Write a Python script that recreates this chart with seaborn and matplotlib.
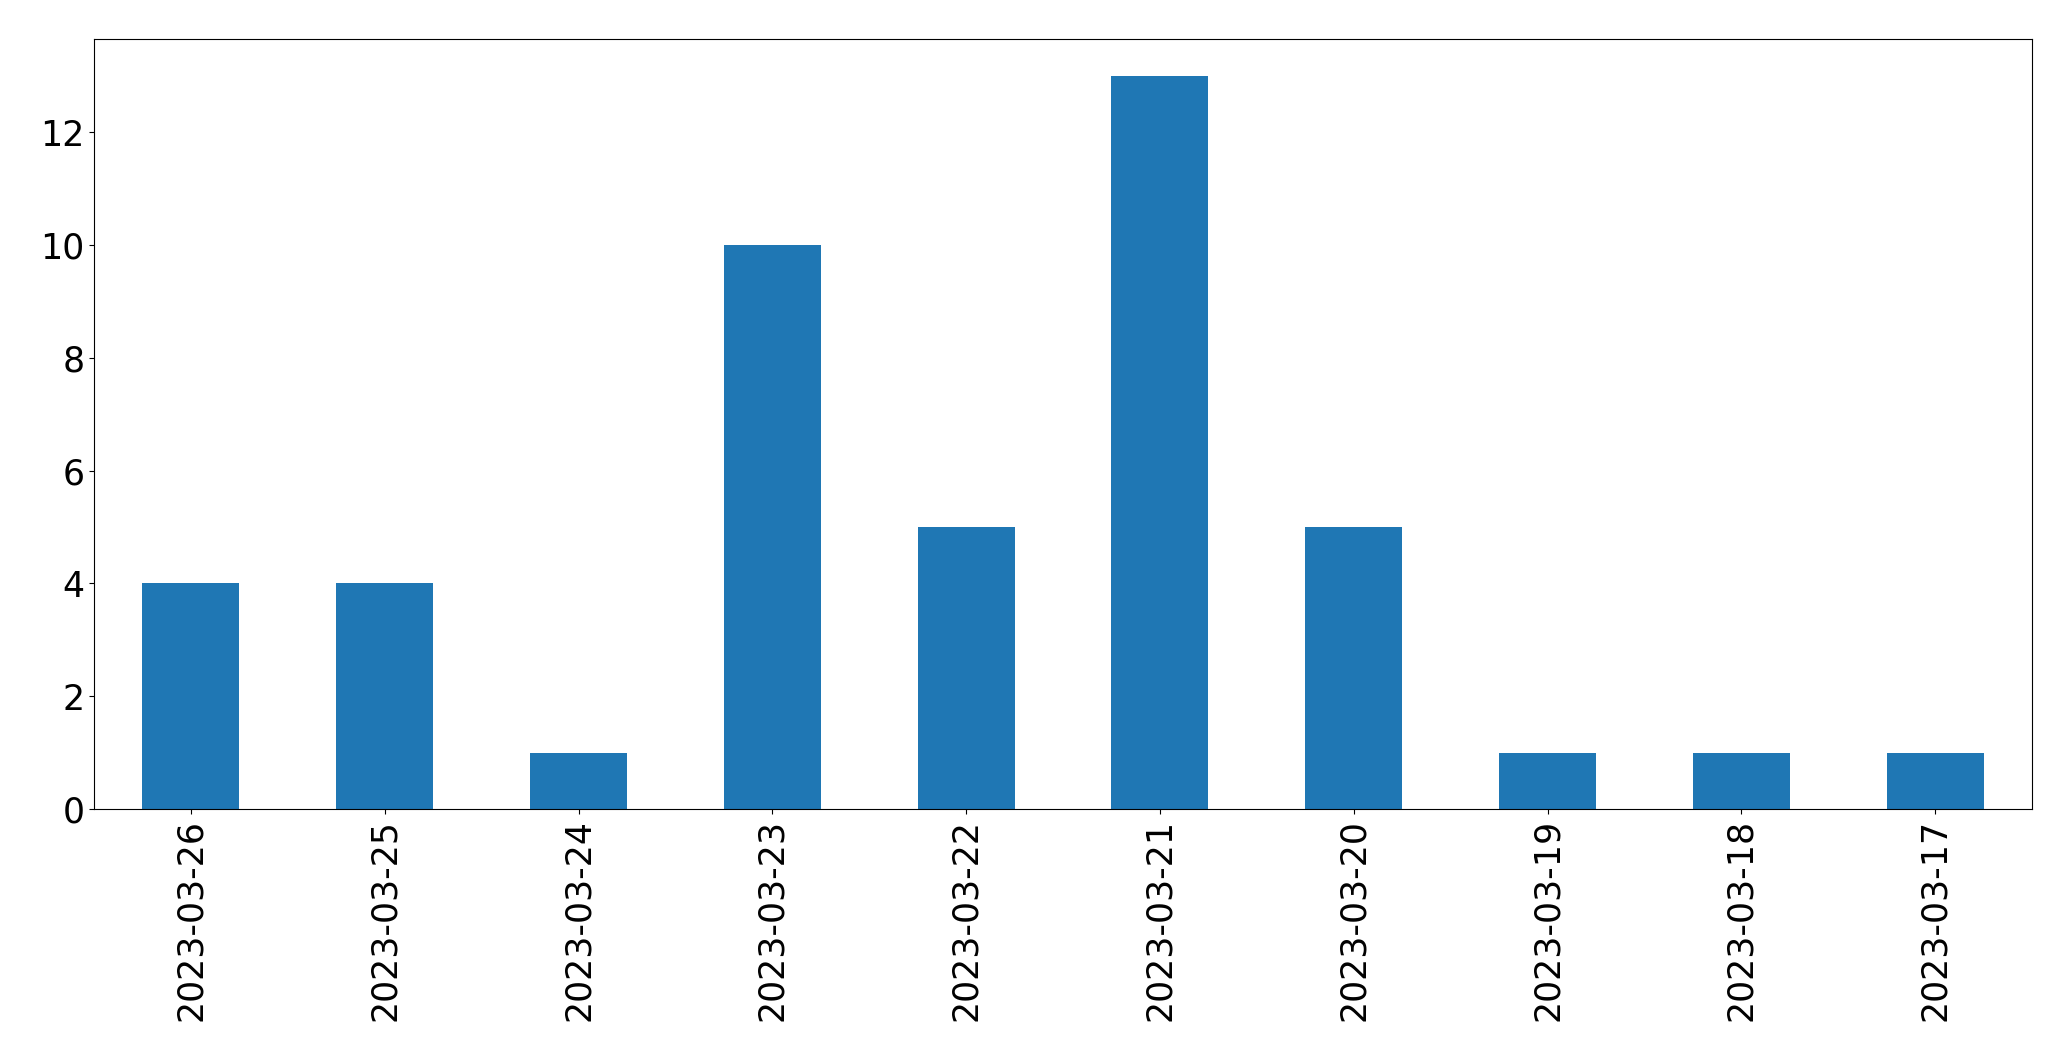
import matplotlib
matplotlib.use("Agg")
import matplotlib.pyplot as plt
import seaborn as sns
import pandas as pd

dates = ["2023-03-26", "2023-03-25", "2023-03-24", "2023-03-23", "2023-03-22",
         "2023-03-21", "2023-03-20", "2023-03-19", "2023-03-18", "2023-03-17"]
counts = [4, 4, 1, 10, 5, 13, 5, 1, 1, 1]

df = pd.DataFrame({"date": dates, "count": counts})

fig, ax = plt.subplots(figsize=(20.71, 10.61), dpi=100)
sns.barplot(data=df, x="date", y="count", order=dates, color="#1f77b4",
            saturation=1, width=0.5, ax=ax, errorbar=None)
ax.set_xlim(-0.5, len(dates) - 0.5)
ax.set_ylim(0, max(counts) * 1.05)
ax.set_xlabel("")
ax.set_ylabel("")
ax.tick_params(axis="both", labelsize=25)
plt.setp(ax.get_xticklabels(), rotation=90)
fig.subplots_adjust(left=0.0454, right=0.9812, top=0.9632, bottom=0.2375)
fig.savefig("out.png", dpi=100)
